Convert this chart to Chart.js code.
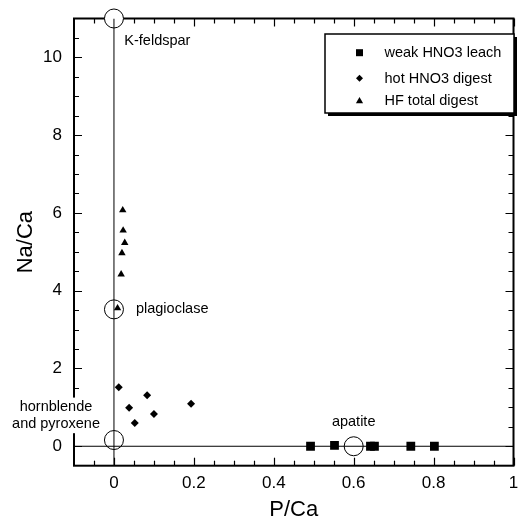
<!DOCTYPE html>
<html>
<head>
<meta charset="utf-8">
<script src="https://cdn.jsdelivr.net/npm/chart.js@4.4.0/dist/chart.umd.min.js"></script>
<style>
body { margin: 0; background: #fff; }
#wrap { width: 524px; height: 519px; }
</style>
</head>
<body>
<div id="wrap"><canvas id="myChart" width="524" height="519"></canvas></div>
<script>
// weak HNO3 leach (squares)
const leachP = [0.492, 0.552, 0.642, 0.652, 0.743, 0.802];
const leachNa = [0, 0.02, 0, 0, 0, 0];
// hot HNO3 digest (diamonds)
const hotP = [0.012, 0.083, 0.038, 0.100, 0.052, 0.193];
const hotNa = [1.52, 1.31, 0.99, 0.83, 0.60, 1.09];
// HF total digest (triangles)
const hfP = [0.022, 0.023, 0.027, 0.020, 0.018, 0.009];
const hfNa = [6.07, 5.55, 5.23, 4.97, 4.42, 3.55];
// end-member minerals (open circles)
const minerals = ['K-feldspar', 'plagioclase', 'hornblende and pyroxene', 'apatite'];
const mineralP = [0, 0, 0, 0.6];
const mineralNa = [11, 3.52, 0.16, 0];
// mineral label anchors (data units)
const labelLines = [['K-feldspar'], ['plagioclase'], ['hornblende', 'and pyroxene'], ['apatite']];
const labelP = [0.026, 0.055, -0.145, 0.6];
const labelNa = [10.42, 3.52, 1.02, 0.62];
const labelAlign = ['left', 'left', 'center', 'center'];

const xTicks = [0, 0.2, 0.4, 0.6, 0.8, 1];
const yTicks = [0, 2, 4, 6, 8, 10];
const seriesNames = ['weak HNO3 leach', 'hot HNO3 digest', 'HF total digest'];

function toPoints(xs, ys) {
    return xs.map((v, i) => ({ x: v, y: ys[i] }));
}

const framePlugin = {
    id: 'frame',
    beforeDatasetsDraw(chart) {
        const { ctx, chartArea: a } = chart;
        ctx.save();
        ctx.strokeStyle = '#000';
        ctx.lineWidth = 2;
        ctx.strokeRect(a.left, a.top, a.right - a.left, a.bottom - a.top);
        ctx.restore();
    },
    afterDatasetsDraw(chart) {
        const { ctx, chartArea: a, scales } = chart;
        const x = scales.x, y = scales.y;
        ctx.save();
        ctx.strokeStyle = '#000';
        ctx.lineWidth = 1.2;
        //x ticks, top and bottom, pointing inward
        for (let i = -1; i <= 20; i++) {
            const px = Math.round(x.getPixelForValue(i * 0.05)) + 0.5;
            const len = (i % 4 === 0) ? 8 : 5;
            ctx.beginPath();
            ctx.moveTo(px, a.bottom); ctx.lineTo(px, a.bottom - len);
            ctx.stroke();
            if (px > a.left + 14 && Math.abs(px - x.getPixelForValue(0)) > 9) {
                ctx.beginPath();
                ctx.moveTo(px, a.top); ctx.lineTo(px, a.top + len);
                ctx.stroke();
            }
        }
        //y ticks, left and right
        for (let i = 0; i <= 21; i++) {
            const py = Math.round(y.getPixelForValue(i * 0.5)) + 0.5;
            const len = (i % 4 === 0) ? 8 : 5;
            ctx.beginPath();
            ctx.moveTo(a.left, py); ctx.lineTo(a.left + len, py);
            ctx.moveTo(a.right, py); ctx.lineTo(a.right - len, py);
            ctx.stroke();
        }
        ctx.restore();
    },
    afterDraw(chart) {
        const { ctx, scales } = chart;
        const x = scales.x, y = scales.y;
        ctx.save();
        ctx.font = '14.5px "Liberation Sans", Arial, sans-serif';
        ctx.textBaseline = 'middle';
        for (let i = 0; i < labelLines.length; i++) {
            ctx.textAlign = labelAlign[i];
            const px = x.getPixelForValue(labelP[i]);
            const py = y.getPixelForValue(labelNa[i]);
            if (labelLines[i].length > 1) {
                //white backing so the label sits over the axis line
                const w = Math.max(...labelLines[i].map(t => ctx.measureText(t).width));
                ctx.fillStyle = '#fff';
                ctx.fillRect(px - w / 2 - 1, py - 9, w + 2, 17.3 * labelLines[i].length + 1);
            }
            ctx.fillStyle = '#000';
            labelLines[i].forEach((t, j) => ctx.fillText(t, px, py + j * 17.3));
        }
        //legend box with shadow
        const bx = 325, by = 34, bw = 189, bh = 79;
        ctx.fillStyle = '#000';
        ctx.fillRect(bx + 3, by + 3, bw, bh);
        ctx.fillStyle = '#fff';
        ctx.fillRect(bx, by, bw, bh);
        ctx.strokeStyle = '#000';
        ctx.lineWidth = 1.5;
        ctx.strokeRect(bx, by, bw, bh);
        ctx.fillStyle = '#000';
        const rows = [52.7, 78.3, 100.7];
        const mx = 359.5;
        ctx.textAlign = 'left';
        rows.forEach((ry, i) => {
            ctx.beginPath();
            if (i === 0) {
                ctx.rect(mx - 3.5, ry - 3.5, 7, 7);
            } else if (i === 1) {
                ctx.moveTo(mx, ry - 3.5); ctx.lineTo(mx + 3.5, ry);
                ctx.lineTo(mx, ry + 3.5); ctx.lineTo(mx - 3.5, ry);
            } else {
                ctx.moveTo(mx, ry - 3.8); ctx.lineTo(mx + 3.6, ry + 2.6); ctx.lineTo(mx - 3.6, ry + 2.6);
            }
            ctx.closePath();
            ctx.fill();
            ctx.fillText(seriesNames[i], 384.5, ry + 0.5);
        });
        ctx.restore();
    }
};

const font = '"Liberation Sans", Arial, sans-serif';

const config = {
    type: 'scatter',
    data: {
        datasets: [
            {
                label: seriesNames[0],
                data: toPoints(leachP, leachNa),
                pointStyle: 'rect',
                pointRadius: 6.2,
                borderWidth: 0,
                backgroundColor: '#000',
                order: 0
            },
            {
                label: seriesNames[1],
                data: toPoints(hotP, hotNa),
                pointStyle: 'rectRot',
                pointRadius: 4,
                borderWidth: 0,
                backgroundColor: '#000',
                order: 0
            },
            {
                label: seriesNames[2],
                data: toPoints(hfP, hfNa),
                pointStyle: 'triangle',
                pointRadius: 4.3,
                borderWidth: 0,
                backgroundColor: '#000',
                order: 0
            },
            {
                label: 'x = 0',
                type: 'line',
                data: [{ x: 0, y: -0.5 }, { x: 0, y: 11 }],
                borderColor: '#000',
                borderWidth: 1,
                pointRadius: 0,
                order: 2
            },
            {
                label: 'y = 0',
                type: 'line',
                data: [{ x: -0.1, y: 0 }, { x: 1, y: 0 }],
                borderColor: '#000',
                borderWidth: 1,
                pointRadius: 0,
                order: 2
            },
            {
                label: 'minerals',
                data: toPoints(mineralP, mineralNa),
                pointStyle: 'circle',
                pointRadius: 9.5,
                borderWidth: 1,
                borderColor: '#000',
                backgroundColor: '#fff',
                clip: false,
                order: 3
            }
        ]
    },
    options: {
        responsive: false,
        animation: false,
        events: [],
        layout: { padding: { top: 18.5, right: 3, left: 0, bottom: 0 } },
        plugins: {
            legend: { display: false },
            tooltip: { enabled: false }
        },
        scales: {
            x: {
                type: 'linear',
                min: -0.1,
                max: 1,
                grid: { display: false },
                border: { display: false },
                afterBuildTicks: (s) => { s.ticks = xTicks.map(v => ({ value: v })); },
                afterFit: (s) => { s.height = 53.3; },
                ticks: {
                    color: '#000',
                    padding: -1,
                    maxRotation: 0,
                    font: { family: font, size: 17 },
                    callback: (v) => String(v)
                },
                title: {
                    display: true,
                    text: 'P/Ca',
                    color: '#000',
                    font: { family: font, size: 22, lineHeight: 1 },
                    padding: { top: 0, bottom: -2 }
                }
            },
            y: {
                type: 'linear',
                min: -0.5,
                max: 11,
                grid: { display: false },
                border: { display: false },
                afterBuildTicks: (s) => { s.ticks = yTicks.map(v => ({ value: v })); },
                afterFit: (s) => { s.width = 74; },
                ticks: {
                    color: '#000',
                    padding: 4,
                    font: { family: font, size: 17 },
                    callback: (v) => String(v)
                },
                title: {
                    display: true,
                    text: 'Na/Ca',
                    color: '#000',
                    font: { family: font, size: 22, lineHeight: 1 },
                    padding: { top: 15, bottom: 0 }
                }
            }
        }
    },
    plugins: [framePlugin]
};

const myChart = new Chart(document.getElementById('myChart'), config);
</script>
</body>
</html>
